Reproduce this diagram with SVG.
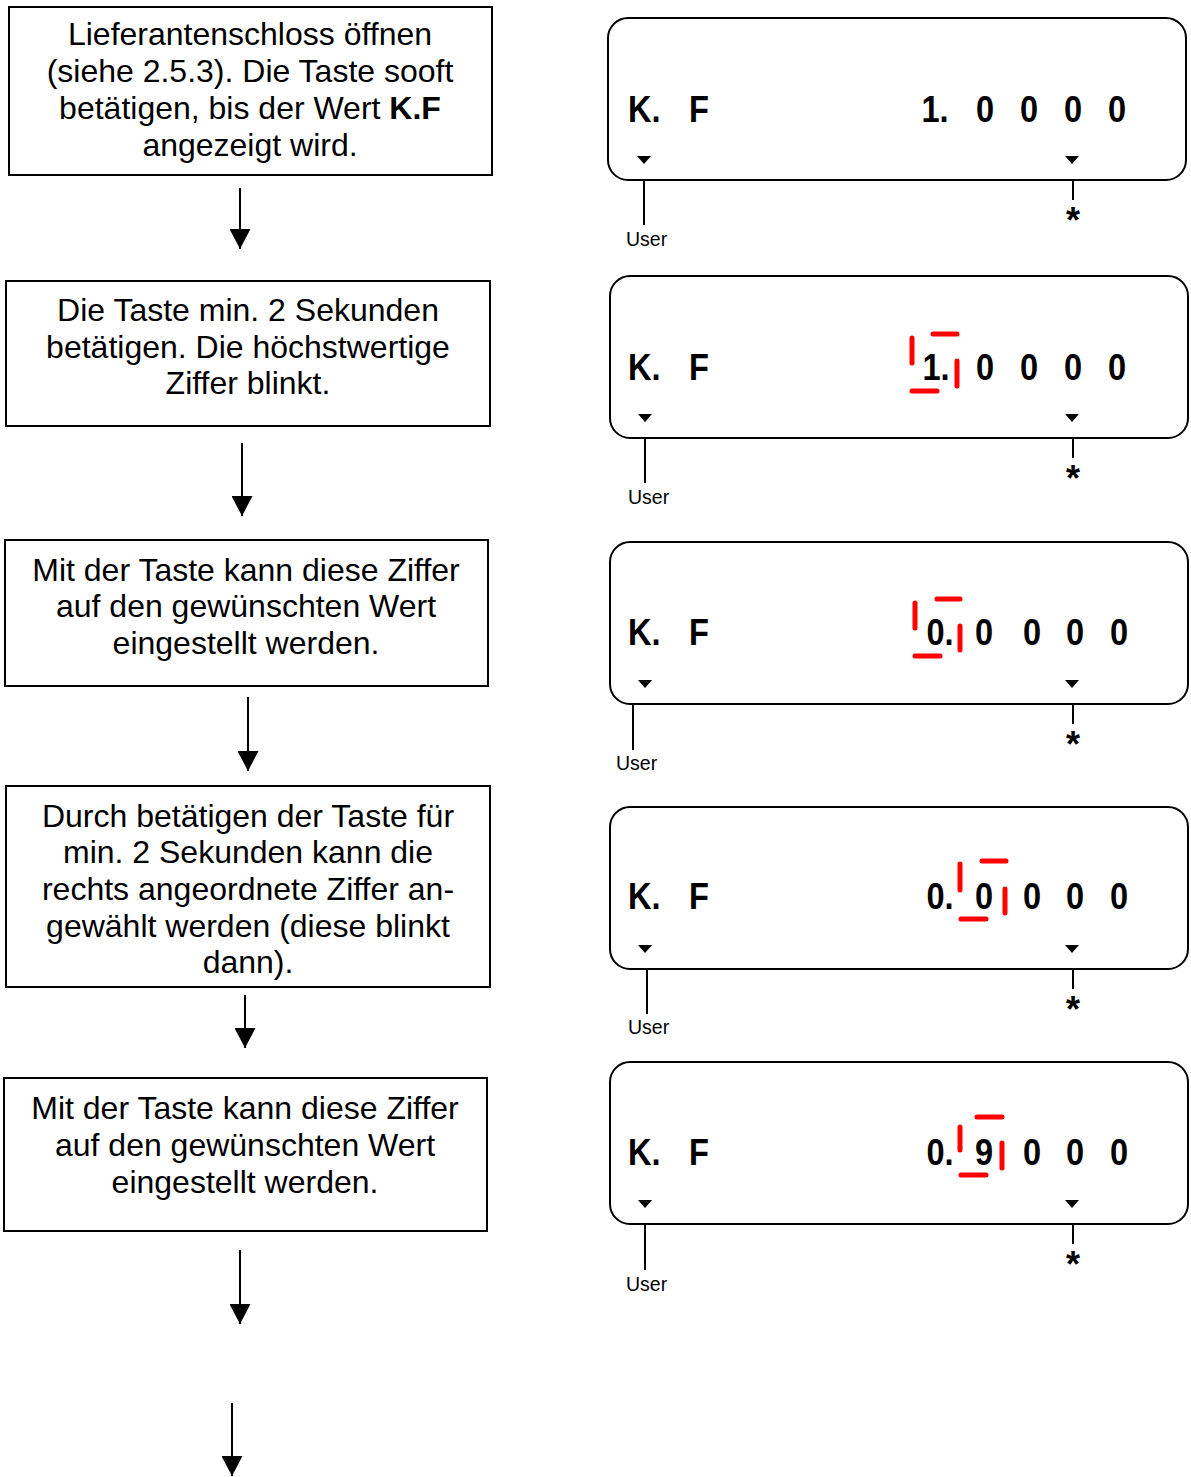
<svg xmlns="http://www.w3.org/2000/svg" width="1191" height="1477" viewBox="0 0 1191 1477">
<style>
.box{fill:#fff;stroke:#000;stroke-width:2}
.t{font-family:"Liberation Sans",Arial,sans-serif;font-size:32px;fill:#000;text-anchor:middle}
.panel{fill:#fff;stroke:#000;stroke-width:2}
.d{font-family:"Liberation Sans",Arial,sans-serif;font-size:37px;font-weight:bold;fill:#000}
.dm{text-anchor:middle}
.u{font-family:"Liberation Sans",Arial,sans-serif;font-size:19.5px;fill:#000}
.ast{font-family:"Liberation Sans",Arial,sans-serif;font-size:36px;font-weight:bold;fill:#000;text-anchor:middle}
.lead{stroke:#000;stroke-width:2;fill:none}
.red{stroke:#f00;stroke-width:5;stroke-linecap:round;fill:none}
.arr{stroke:#000;stroke-width:2;fill:none;marker-end:url(#ah)}
</style>
<defs>
<marker id="ah" viewBox="0 0 20 21" refX="20" refY="10.5" markerWidth="20" markerHeight="21" markerUnits="userSpaceOnUse" orient="auto">
<path d="M0,0 L20,10.5 L0,21 z" fill="#000"/>
</marker>
<path id="tri" d="M-7,0 L7,0 L0,8 z" fill="#000"/>
</defs>
<rect width="1191" height="1477" fill="#fff"/>

<g id="step1">
<rect class="box" x="9" y="7" width="483" height="168"/>
<text class="t" x="250" y="45">Lieferantenschloss öffnen</text>
<text class="t" x="250" y="82">(siehe 2.5.3). Die Taste sooft</text>
<text class="t" x="250" y="119">betätigen, bis der Wert <tspan font-weight="bold">K.F</tspan></text>
<text class="t" x="250" y="156">angezeigt wird.</text>
</g>
<g id="step2">
<rect class="box" x="6" y="281" width="484" height="145"/>
<text class="t" x="248" y="321">Die Taste min. 2 Sekunden</text>
<text class="t" x="248" y="358">betätigen. Die höchstwertige</text>
<text class="t" x="248" y="394">Ziffer blinkt.</text>
</g>
<g id="step3">
<rect class="box" x="5" y="540" width="483" height="146"/>
<text class="t" x="246" y="581">Mit der Taste kann diese Ziffer</text>
<text class="t" x="246" y="617">auf den gewünschten Wert</text>
<text class="t" x="246" y="654">eingestellt werden.</text>
</g>
<g id="step4">
<rect class="box" x="6" y="786" width="484" height="201"/>
<text class="t" x="248" y="827">Durch betätigen der Taste für</text>
<text class="t" x="248" y="863">min. 2 Sekunden kann die</text>
<text class="t" x="248" y="900">rechts angeordnete Ziffer an-</text>
<text class="t" x="248" y="937">gewählt werden (diese blinkt</text>
<text class="t" x="248" y="973">dann).</text>
</g>
<g id="step5">
<rect class="box" x="4" y="1078" width="483" height="153"/>
<text class="t" x="245" y="1119">Mit der Taste kann diese Ziffer</text>
<text class="t" x="245" y="1156">auf den gewünschten Wert</text>
<text class="t" x="245" y="1193">eingestellt werden.</text>
</g>

<g id="display1">
<rect class="panel" x="608" y="18" width="578" height="162" rx="20"/>
<text class="d" transform="translate(628,122) scale(0.88,1)">K.</text><text class="d" transform="translate(689,122) scale(0.88,1)">F</text>
<text class="d dm" transform="translate(935,122) scale(0.88,1)">1.</text>
<text class="d dm" transform="translate(985,122) scale(0.88,1)">0</text><text class="d dm" transform="translate(1029,122) scale(0.88,1)">0</text><text class="d dm" transform="translate(1073,122) scale(0.88,1)">0</text><text class="d dm" transform="translate(1117,122) scale(0.88,1)">0</text>
<use href="#tri" x="644" y="156"/><use href="#tri" x="1072" y="156"/>
<line class="lead" x1="644" y1="180" x2="644" y2="225"/>
<text class="u" x="626" y="246">User</text>
<line class="lead" x1="1073" y1="180" x2="1073" y2="200"/>
<text class="ast" x="1073" y="233">*</text>
</g>

<g id="display2">
<rect class="panel" x="610" y="276" width="578" height="162" rx="20"/>
<text class="d" transform="translate(628,380) scale(0.88,1)">K.</text><text class="d" transform="translate(689,380) scale(0.88,1)">F</text>
<text class="d dm" transform="translate(936,380) scale(0.88,1)">1.</text>
<text class="d dm" transform="translate(985,380) scale(0.88,1)">0</text><text class="d dm" transform="translate(1029,380) scale(0.88,1)">0</text><text class="d dm" transform="translate(1073,380) scale(0.88,1)">0</text><text class="d dm" transform="translate(1117,380) scale(0.88,1)">0</text>
<path class="red" d="M912,338 V363 M933,334 H957 M957,361 V386 M912,391 H937"/>
<use href="#tri" x="645" y="414"/><use href="#tri" x="1072" y="414"/>
<line class="lead" x1="645" y1="438" x2="645" y2="483"/>
<text class="u" x="628" y="504">User</text>
<line class="lead" x1="1073" y1="438" x2="1073" y2="458"/>
<text class="ast" x="1073" y="491">*</text>
</g>

<g id="display3">
<rect class="panel" x="610" y="542" width="578" height="162" rx="20"/>
<text class="d" transform="translate(628,645) scale(0.88,1)">K.</text><text class="d" transform="translate(689,645) scale(0.88,1)">F</text>
<text class="d dm" transform="translate(940,645) scale(0.88,1)">0.</text>
<text class="d dm" transform="translate(984,645) scale(0.88,1)">0</text><text class="d dm" transform="translate(1032,645) scale(0.88,1)">0</text><text class="d dm" transform="translate(1075,645) scale(0.88,1)">0</text><text class="d dm" transform="translate(1119,645) scale(0.88,1)">0</text>
<path class="red" d="M915,603 V628 M937,599 H960 M960,626 V650 M915,656 H940"/>
<use href="#tri" x="645" y="680"/><use href="#tri" x="1072" y="680"/>
<line class="lead" x1="633" y1="704" x2="633" y2="750"/>
<text class="u" x="616" y="770">User</text>
<line class="lead" x1="1073" y1="704" x2="1073" y2="724"/>
<text class="ast" x="1073" y="757">*</text>
</g>

<g id="display4">
<rect class="panel" x="610" y="807" width="578" height="162" rx="20"/>
<text class="d" transform="translate(628,909) scale(0.88,1)">K.</text><text class="d" transform="translate(689,909) scale(0.88,1)">F</text>
<text class="d dm" transform="translate(940,909) scale(0.88,1)">0.</text>
<text class="d dm" transform="translate(984,909) scale(0.88,1)">0</text><text class="d dm" transform="translate(1032,909) scale(0.88,1)">0</text><text class="d dm" transform="translate(1075,909) scale(0.88,1)">0</text><text class="d dm" transform="translate(1119,909) scale(0.88,1)">0</text>
<path class="red" d="M960,864 V890 M982,861 H1006 M1005,889 V913 M961,919 H986"/>
<use href="#tri" x="645" y="945"/><use href="#tri" x="1072" y="945"/>
<line class="lead" x1="647" y1="969" x2="647" y2="1014"/>
<text class="u" x="628" y="1034">User</text>
<line class="lead" x1="1073" y1="969" x2="1073" y2="989"/>
<text class="ast" x="1073" y="1022">*</text>
</g>

<g id="display5">
<rect class="panel" x="610" y="1062" width="578" height="162" rx="20"/>
<text class="d" transform="translate(628,1165) scale(0.88,1)">K.</text><text class="d" transform="translate(689,1165) scale(0.88,1)">F</text>
<text class="d dm" transform="translate(940,1165) scale(0.88,1)">0.</text>
<text class="d dm" transform="translate(984,1165) scale(0.88,1)">9</text><text class="d dm" transform="translate(1032,1165) scale(0.88,1)">0</text><text class="d dm" transform="translate(1075,1165) scale(0.88,1)">0</text><text class="d dm" transform="translate(1119,1165) scale(0.88,1)">0</text>
<path class="red" d="M960,1127 V1150 M977,1117 H1002 M1002,1143 V1168 M961,1175 H986"/>
<use href="#tri" x="645" y="1200"/><use href="#tri" x="1072" y="1200"/>
<line class="lead" x1="645" y1="1224" x2="645" y2="1270"/>
<text class="u" x="626" y="1291">User</text>
<line class="lead" x1="1073" y1="1224" x2="1073" y2="1244"/>
<text class="ast" x="1073" y="1277">*</text>
</g>

<g id="connectors">
<line class="arr" x1="240" y1="188" x2="240" y2="249"/>
<line class="arr" x1="242" y1="443" x2="242" y2="516"/>
<line class="arr" x1="248" y1="697" x2="248" y2="771"/>
<line class="arr" x1="245" y1="995" x2="245" y2="1048"/>
<line class="arr" x1="240" y1="1250" x2="240" y2="1324"/>
<line class="arr" x1="232" y1="1403" x2="232" y2="1476"/>
</g>
</svg>
